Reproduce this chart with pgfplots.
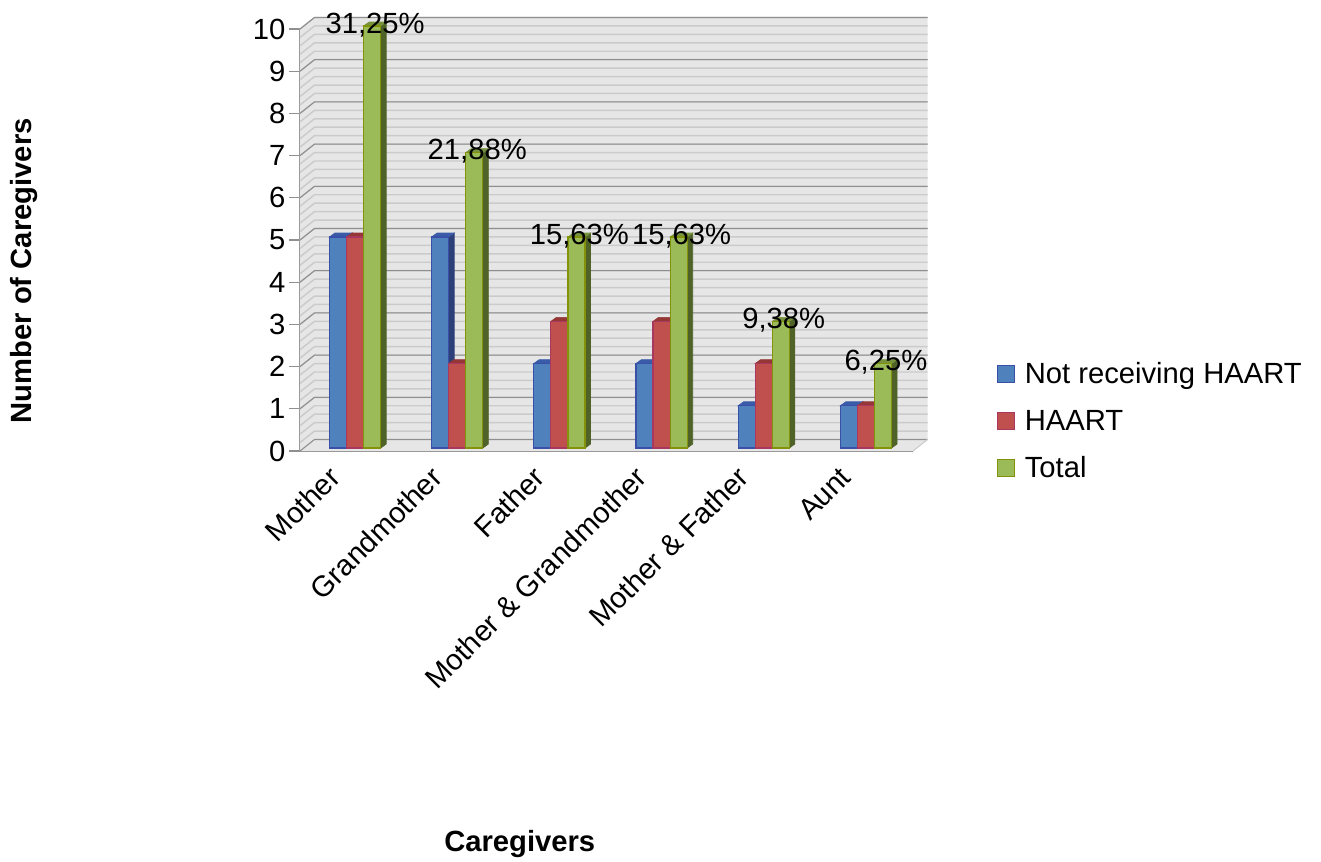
\documentclass[border=0pt]{standalone}
\usepackage{fontspec}
\setmainfont{Liberation Sans}
\usepackage{pgfplots}
\usepackage{pgfplotstable}
\pgfplotsset{compat=1.18}
\definecolor{blueF}{HTML}{4F81BD}\definecolor{blueE}{HTML}{3A50A8}\definecolor{blueS}{HTML}{2C3F78}\definecolor{blueT}{HTML}{3A5CA8}
\definecolor{redF}{HTML}{C0504D}\definecolor{redE}{HTML}{A8385F}\definecolor{redS}{HTML}{8C3836}\definecolor{redT}{HTML}{953735}
\definecolor{greenF}{HTML}{9BBB59}\definecolor{greenE}{HTML}{84910A}\definecolor{greenS}{HTML}{4F6228}\definecolor{greenT}{HTML}{76923C}
\definecolor{wall}{HTML}{E6E6E6}\definecolor{gridm}{HTML}{CBCBCB}\definecolor{gridM}{HTML}{8F8F8F}
\pgfplotstableread{
x v
0 5
1 5
2 2
3 2
4 1
5 1
}\tblA
\pgfplotstableread{
x v
0 5
1 2
2 3
3 3
4 2
5 1
}\tblB
\pgfplotstableread{
x v lab
0 10 {31,25\%}
1 7 {21,88\%}
2 5 {15,63\%}
3 5 {15,63\%}
4 3 {9,38\%}
5 2 {6,25\%}
}\tblC
% side and top faces of one bar: centre, value, side colour, top colour
\newcommand\depthfaces[4]{%
  \pgfmathsetmacro\xa{#1+0.0837}%
  \pgfmathsetmacro\xb{#1+0.0837+0.0538}%
  \pgfmathsetmacro\xc{#1-0.0837}%
  \pgfmathsetmacro\xd{#1-0.0837+0.0538}%
  \pgfmathsetmacro\yb{#2+0.0948}%
  \addplot[forget plot,fill=#3,draw=#3,line width=.5pt,xshift=3pt,yshift=2.25pt] coordinates {(\xa,0)(\xb,0.0948)(\xb,\yb)(\xa,#2)} --cycle;
  \addplot[forget plot,fill=#4,draw=#4,line width=.5pt,xshift=3pt,yshift=2.25pt] coordinates {(\xc,#2)(\xa,#2)(\xb,\yb)(\xd,\yb)} --cycle;
}
\begin{document}
\begin{tikzpicture}
\path (0,0) rectangle (990.75pt,-642pt);
\begin{axis}[
  at={(225pt,-338.25pt)},anchor=south west,
  scale only axis,width=459.75pt,height=316.5pt,
  xmin=-0.5,xmax=5.5,ymin=0,ymax=10,clip=false,
  axis lines*=left,axis line style={gridM,line width=.9pt,-},
  xtick={0,1,2,3,4,5},
  xticklabels={Mother,Grandmother,Father,Mother \& Grandmother,Mother \& Father,Aunt},
  ytick={0,1,...,10},
  tick align=outside,
  tick style={gridM,line width=.9pt},
  major tick length=8.25pt,
  x tick style={draw=none},
  /pgf/number format/assume math mode=true,
  tick label style={font=\fontsize{21.9}{24}\selectfont},
  yticklabel style={xshift=.75pt},
  xticklabel style={rotate=45,anchor=east,xshift=-10.6pt,yshift=3.2pt},
  label style={font=\fontsize{21.9}{24}\selectfont\bfseries},
  xlabel={Caregivers},ylabel={Number of Caregivers},
  xlabel style={at={(axis description cs:0.3585,-0.931)},anchor=center},
  ylabel style={at={(axis description cs:-0.45,0.427)},anchor=center},
  legend style={draw=none,fill=none,at={(axis description cs:1.136,0.071)},anchor=west,
    font=\fontsize{21.9}{24}\selectfont,row sep=14.3pt,inner sep=0pt},
  legend cell align=left,
  legend image code/.code={\path[#1,line width=.9pt] (0pt,-8.75pt) rectangle (13pt,4.25pt);\path (0pt,0pt) (18.25pt,0pt);},
]
% floor and walls
\path[fill=wall] (axis cs:-0.5,0)--(axis cs:5.5,0)--(axis cs:5.642,0.2725)--(axis cs:5.642,10.2725)--(axis cs:-0.358,10.2725)--(axis cs:-0.5,10)--cycle;
\pgfplotsinvokeforeach{1,2,...,50}{
  \draw[gridm,line width=1.1pt] (axis cs:-0.5,#1*0.2)--(axis cs:-0.358,#1*0.2+0.2725)--(axis cs:5.642,#1*0.2+0.2725);
}
\pgfplotsinvokeforeach{0,1,...,10}{
  \draw[gridM,line width=.8pt] (axis cs:-0.5,#1)--(axis cs:-0.358,#1+0.2725)--(axis cs:5.642,#1+0.2725);
}
\draw[gridm,line width=.8pt] (axis cs:5.5,0)--(axis cs:5.642,0.2725);
% blue
\depthfaces{-0.1673}{5}{blueS}{blueT}
\depthfaces{0.8327}{5}{blueS}{blueT}
\depthfaces{1.8327}{2}{blueS}{blueT}
\depthfaces{2.8327}{2}{blueS}{blueT}
\depthfaces{3.8327}{1}{blueS}{blueT}
\depthfaces{4.8327}{1}{blueS}{blueT}
\addplot[ybar,bar width=12.8pt,bar shift=-9.8pt,yshift=2.25pt,fill=blueF,draw=blueE,line width=.9pt] table[x=x,y=v]{\tblA};
\addlegendentry{Not receiving HAART}
% red
\depthfaces{0}{5}{redS}{redT}
\depthfaces{1}{2}{redS}{redT}
\depthfaces{2}{3}{redS}{redT}
\depthfaces{3}{3}{redS}{redT}
\depthfaces{4}{2}{redS}{redT}
\depthfaces{5}{1}{redS}{redT}
\addplot[ybar,bar width=12.8pt,bar shift=3pt,yshift=2.25pt,fill=redF,draw=redE,line width=.9pt] table[x=x,y=v]{\tblB};
\addlegendentry{HAART}
% green
\depthfaces{0.1673}{10}{greenS}{greenT}
\depthfaces{1.1673}{7}{greenS}{greenT}
\depthfaces{2.1673}{5}{greenS}{greenT}
\depthfaces{3.1673}{5}{greenS}{greenT}
\depthfaces{4.1673}{3}{greenS}{greenT}
\depthfaces{5.1673}{2}{greenS}{greenT}
\addplot[ybar,bar width=12.8pt,bar shift=15.8pt,yshift=2.25pt,fill=greenF,draw=greenE,line width=.9pt,
  point meta=explicit symbolic,nodes near coords,
  every node near coord/.append style={anchor=center,xshift=18pt,yshift=.75pt,text=black,font=\fontsize{21.9}{24}\selectfont}]
  table[x=x,y=v,meta=lab]{\tblC};
\addlegendentry{Total}
\end{axis}
\end{tikzpicture}
\end{document}
